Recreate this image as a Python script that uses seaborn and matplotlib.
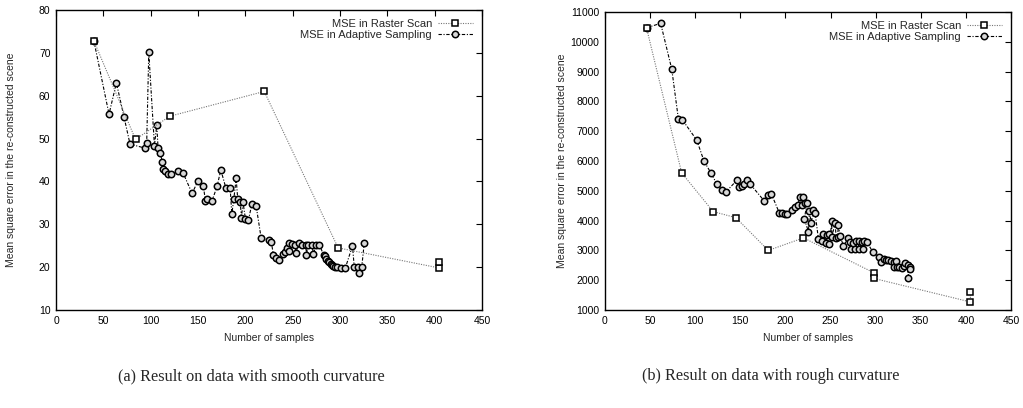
import numpy as np
import pandas as pd
import matplotlib
matplotlib.use("Agg")
import matplotlib.pyplot as plt
import seaborn as sns

# ---------------- data ----------------
smooth_raster_x = [40, 84, 120, 220, 298, 405, 405]
smooth_raster_y = [72.8, 49.8, 55.2, 61.0, 24.5, 19.8, 21.3]

smooth_adapt_x = [40, 56, 63.8, 71.9, 78.2, 93.7, 95.8, 98, 104, 106.4, 107.8, 110,
                  112.4, 113.4, 115.5, 118.7, 121.2, 128.6, 134.2, 143.8, 150.1,
                  155.7, 157.8, 160, 164.9, 170.2, 174.1, 179.4, 184, 185.7, 187.8,
                  190.3, 192, 194.5, 195.9, 197.5, 200.1, 203.3, 207, 211.4, 216.7,
                  225, 227.5, 229.7, 232.6, 236, 239.6, 242, 243.9, 245.6, 246.6,
                  249.1, 252.6, 253.5, 256.2, 259.7, 264, 264.5, 266.7, 270.3, 272,
                  274.5, 278.3, 282.6, 284, 285.5, 287, 288.5, 290, 291.5, 293, 295,
                  296.7, 301.3, 305.5, 313.2, 315, 318.5, 320, 323, 325.6]
smooth_adapt_y = [72.8, 55.7, 63.0, 55.0, 48.7, 47.8, 48.9, 70.1, 48.3, 53.2, 47.9, 46.7,
                  44.5, 42.8, 42.4, 41.7, 41.7, 42.4, 42.0, 37.2, 40.2,
                  38.9, 35.5, 36.0, 35.5, 38.9, 42.7, 38.5, 38.4, 32.4, 35.8,
                  40.7, 35.8, 35.3, 31.5, 35.2, 31.3, 31.0, 34.8, 34.3, 26.8,
                  26.3, 25.8, 22.8, 22.1, 21.7, 23.1, 23.6, 24.4, 25.7, 23.8,
                  25.4, 25.2, 23.2, 25.6, 25.2, 25.2, 22.9, 25.2, 25.2, 23.0,
                  25.2, 25.2, 22.9, 22.5, 22.0, 21.5, 21.2, 20.8, 20.5, 20.3, 20.1,
                  20.1, 19.7, 19.7, 25.0, 20.1, 20.0, 18.7, 20.1, 25.6]

rough_raster_x = [46, 85, 120, 145, 181, 220, 298, 298, 405, 405]
rough_raster_y = [10470, 5600, 4300, 4100, 3000, 3420, 2250, 2060, 1270, 1610]

rough_adapt_x = [46, 61.7, 74, 81.3, 85.8, 101.7, 109.8, 117.6, 123.9, 129.4, 133.9,
                 146.4, 148.6, 151.6, 154.5, 157.5, 160.8, 176.5, 180.4, 184.5, 193.3,
                 196.3, 199.3, 201.5, 207, 210.7, 213.7, 216.3, 218.2, 220, 221.8,
                 223.7, 221, 225.5, 226.6, 228.5, 231, 232.9, 236.6, 240.3, 242.1,
                 245.1, 245.9, 248.8, 248.8, 251.4, 251.4, 255.1, 256.2, 257.7, 258.8,
                 260.6, 264.3, 269.8, 271.7, 272.5, 275.4, 277.3, 278.4, 281, 281,
                 284.7, 285.8, 287.3, 290.2, 296.9, 303.2, 306.1, 308.7, 311.7, 314.2,
                 316.9, 319.8, 319.8, 322.8, 323.5, 326.4, 329.1, 330.9, 332.7, 335.3,
                 336.2, 337.5, 338.3]
rough_adapt_y = [10470, 10620, 9080, 7420, 7380, 6700, 5990, 5590, 5230, 5030, 4960,
                 5360, 5130, 5170, 5220, 5360, 5230, 4660, 4850, 4890, 4250,
                 4270, 4220, 4220, 4340, 4470, 4540, 4800, 4530, 4800, 4580,
                 4580, 4050, 3630, 4310, 3930, 4340, 4250, 3370, 3330, 3550,
                 3260, 3520, 3550, 3215, 4000, 3460, 3910, 3410, 3460, 3860,
                 3480, 3150, 3420, 3290, 3045, 3260, 3035, 3330, 3300, 3035,
                 3290, 3035, 3330, 3290, 2940, 2770, 2620, 2700, 2680, 2680,
                 2650, 2620, 2450, 2650, 2430, 2450, 2400, 2480, 2570, 2510,
                 2090, 2450, 2370]

x_ticks = [0, 50, 100, 150, 200, 250, 300, 350, 400, 450]
smooth_y_ticks = [10, 20, 30, 40, 50, 60, 70, 80]
rough_y_ticks = list(range(1000, 11001, 1000))

label_raster = "MSE in Raster Scan"
label_adapt = "MSE in Adaptive Sampling"
x_label = "Number of samples"
y_label = "Mean square error in the re-constructed scene"
caption_a = "(a) Result on data with smooth curvature"
caption_b = "(b) Result on data with rough curvature"

# ---------------- style ----------------
sns.set_theme(style="white")
plt.rcParams["font.family"] = ["Liberation Sans", "DejaVu Sans"]
plt.rcParams["xtick.direction"] = "in"
plt.rcParams["ytick.direction"] = "in"

W, H = 1023, 408
fig = plt.figure(figsize=(W / 100, H / 100), dpi=100)
fig.patch.set_facecolor("white")

ax1 = fig.add_axes([56 / W, 1 - 310 / H, (482 - 56) / W, 300 / H])
ax2 = fig.add_axes([605 / W, 1 - 310 / H, (1011 - 605) / W, 298 / H])


def draw(ax, rx, ry, ax_x, ax_y, ylim, yticks):
    d_r = pd.DataFrame({"x": rx, "y": ry})
    d_a = pd.DataFrame({"x": ax_x, "y": ax_y})
    sns.lineplot(data=d_r, x="x", y="y", ax=ax, sort=False, estimator=None,
                 color="#777777", linestyle=(0, (1, 1.2)), linewidth=0.8,
                 marker="s", markersize=4.6, markerfacecolor="white",
                 markeredgecolor="black", markeredgewidth=1.1, label=label_raster,
                 zorder=3)
    sns.lineplot(data=d_a, x="x", y="y", ax=ax, sort=False, estimator=None,
                 color="black", linestyle=(0, (3, 1.5, 1, 1.5)), linewidth=0.8,
                 marker="o", markersize=4.6, markerfacecolor="#d8d8d8",
                 markeredgecolor="black", markeredgewidth=1.1, label=label_adapt,
                 zorder=2)
    ax.set_xlim(0, 450)
    ax.set_ylim(*ylim)
    ax.set_xticks(x_ticks)
    ax.set_yticks(yticks)
    ax.tick_params(axis="both", which="both", top=True, right=True, length=4,
                   width=0.8, labelsize=7.5, colors="black", pad=4)
    for s in ax.spines.values():
        s.set_visible(True)
        s.set_color("black")
        s.set_linewidth(1.0)
    ax.set_xlabel(x_label, fontsize=7.5)
    ax.set_ylabel(y_label, fontsize=7.5)
    ax.xaxis.set_label_coords(0.5, -0.078)
    ax.yaxis.set_label_coords(-0.094, 0.5)
    ax.grid(False)
    leg = ax.legend(loc="upper right", frameon=False, markerfirst=False,
                    fontsize=8, handlelength=3.2, handletextpad=0.5,
                    labelspacing=0.1, borderaxespad=0.4)
    for t in leg.get_texts():
        t.set_ha("right")
    leg._legend_box.align = "right"


draw(ax1, smooth_raster_x, smooth_raster_y, smooth_adapt_x, smooth_adapt_y,
     (10, 80), smooth_y_ticks)
draw(ax2, rough_raster_x, rough_raster_y, rough_adapt_x, rough_adapt_y,
     (1000, 11000), rough_y_ticks)

fig.text(251 / W, 1 - 376 / H, caption_a, ha="center", va="center",
         fontsize=11.7, family=["Liberation Serif", "DejaVu Serif"])
fig.text(771 / W, 1 - 376 / H, caption_b, ha="center", va="center",
         fontsize=11.7, family=["Liberation Serif", "DejaVu Serif"])

fig.savefig("out.png", dpi=100, facecolor="white")
